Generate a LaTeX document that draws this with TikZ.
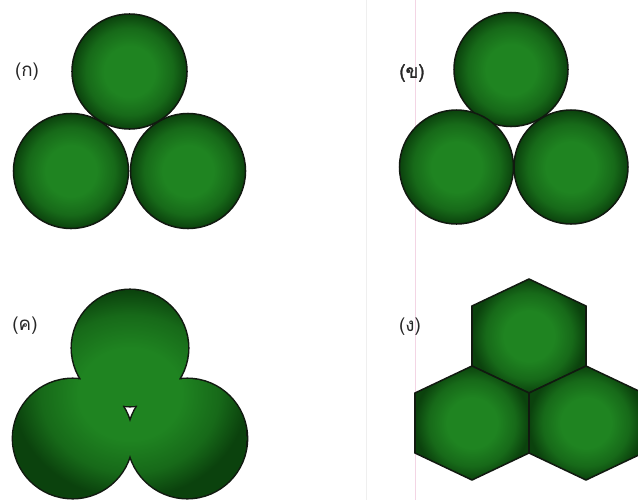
\documentclass[tikz,border=0pt]{standalone}
\usepackage{fontspec}
\newfontfamily\thaifont[Script=Thai,AutoFakeBold=1.5]{Loma}
\usepackage{xcolor}
\usepackage{tikz}
\definecolor{leaf}{HTML}{1F8421}
\definecolor{leafdark}{HTML}{0B420D}
\definecolor{rim}{HTML}{111A10}
\definecolor{pageline}{HTML}{F3D5E4}
\definecolor{faint}{HTML}{EFEFEF}
% 25bp is the rim of the shaded path
\pgfdeclareradialshading{leafglow}{\pgfpoint{0bp}{0bp}}{%
  color(0bp)=(leaf); color(11bp)=(leaf); color(19bp)=(leaf!60!leafdark); color(25bp)=(leafdark); color(50bp)=(leafdark)}

\tikzset{
  blob/.style={shading=leafglow, draw=rim, line width=1.3pt, line join=miter},
  panellabel/.style={font=\thaifont\fontsize{16}{18}\selectfont, text=black!85, inner sep=0pt},
}

\begin{document}
\begin{tikzpicture}[x=0.03cm,y=-0.03cm]
        \useasboundingbox (0,0) rectangle (638,500);
        \clip (0,0) rectangle (638,500);

        % page lines
        \draw[faint,line width=0.8pt] (366,0) -- (366,500);
        \draw[pageline,line width=0.8pt] (415,0) -- (415,500);

        % (a) three touching balls
        \foreach \cx/\cy in {129.5/71.5, 71/171, 188/171}{
                \shadedraw[blob] (\cx,\cy) circle (57.5);
            }
        \node[panellabel] (lblA) at (27,72) {(ก)};

        % (b) packed a little tighter
        \foreach \cx/\cy in {511/69.5, 456.5/167, 571/167}{
                \shadedraw[blob] (\cx,\cy) circle (57);
            }
        \node[panellabel,font=\thaifont\bfseries\fontsize{16}{18}\selectfont] (lblB) at (412,73) {(ข)};

        % (c) merged lobes, outline first then shade the union
        \foreach \cx/\cy/\r in {130/348/58, 72.7/438.5/59.5, 187.3/438.5/59.5}{
                \draw[rim,line width=2.6pt] (\cx,\cy) circle (\r);
            }
        \begin{scope}
            \clip (130,348) circle (58) (72.7,438.5) circle (59.5) (187.3,438.5) circle (59.5);
            \shade[shading=leafglow] (13,290) rectangle (247,498);
        \end{scope}
        \node[panellabel] (lblC) at (25,326) {(ค)};

        % (d) hexagons
        \foreach \cx/\cy in {529/336, 472/423, 586/423}{
                \shadedraw[blob] (\cx,\cy) ++(0,-57) -- ++(57,27) -- ++(0,60) -- ++(-57,27)
                -- ++(-57,-27) -- ++(0,-60) -- cycle;
            }
        \node[panellabel] (lblD) at (410,327) {(ง)};
    \end{tikzpicture}
\end{document}
